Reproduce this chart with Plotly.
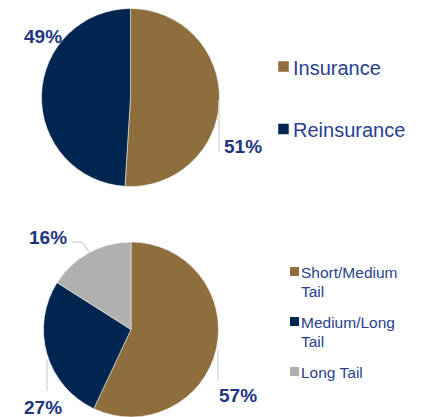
import plotly.graph_objects as go

W, H = 427, 417

# ---- data ----
seg_labels = ["Insurance", "Reinsurance"]
seg_values = [51, 49]
seg_colors = ["#8E6E3D", "#00264F"]

tail_labels = ["Short/Medium<br>Tail", "Medium/Long<br>Tail", "Long Tail"]
tail_values = [57, 27, 16]
tail_colors = ["#8E6E3D", "#00264F", "#B0B0B0"]

TEXT_BLUE = "#1E3580"
LEG_BLUE = "#27418F"
LINE_GREY = "#D9D9D9"
FONT = "Arial"


def px(x, y):
    return x / W, 1 - y / H


fig = go.Figure()

fig.add_trace(go.Pie(
    labels=seg_labels, values=seg_values, sort=False, direction="clockwise",
    rotation=0, marker=dict(colors=seg_colors, line=dict(color="white", width=0.5)),
    textinfo="none", hoverinfo="label+percent", showlegend=False,
    domain=dict(x=[41.5 / W, 219.5 / W], y=[1 - 187 / H, 1 - 8 / H]),
))

fig.add_trace(go.Pie(
    labels=tail_labels, values=tail_values, sort=False, direction="clockwise",
    rotation=0, marker=dict(colors=tail_colors, line=dict(color="white", width=0.5)),
    textinfo="none", hoverinfo="label+percent", showlegend=False,
    domain=dict(x=[43 / W, 219 / W], y=[0, 1 - 242 / H]),
))


# percentage labels
def pct(v, vals):
    return f"{round(100 * v / sum(vals))}%"

label_pos = [
    (seg_values[0], seg_values, 243, 145),
    (seg_values[1], seg_values, 42.5, 35.5),
    (tail_values[0], tail_values, 238, 394),
    (tail_values[1], tail_values, 43, 406.5),
    (tail_values[2], tail_values, 47.5, 236.5),
]
for v, vals, x, y in label_pos:
    xx, yy = px(x, y + 1)
    fig.add_annotation(x=xx, y=yy, xref="paper", yref="paper", text=f"<b>{pct(v, vals)}</b>",
                       showarrow=False, font=dict(family=FONT, size=19, color=TEXT_BLUE),
                       xanchor="center", yanchor="middle")

# leader lines (pixel paths)
leaders = [
    [(219, 100), (219, 152)],
    [(218, 350), (218, 381)],
    [(47, 360), (47, 391)],
    [(72, 242), (82, 242), (89, 252)],
]
for pts in leaders:
    path = "M " + " L ".join(f"{px(x, y)[0]},{px(x, y)[1]}" for x, y in pts)
    fig.add_shape(type="path", path=path, xref="paper", yref="paper",
                  line=dict(color=LINE_GREY, width=1.5))


# legends (square swatch + text), built from the label/colour arrays
def draw_legend(labels, colors, sq_x, sq_y0, step, sq, txt_x, fsize, line_gap):
    for i, (lab, col) in enumerate(zip(labels, colors)):
        cy = sq_y0 + i * step
        x0, y0 = px(sq_x - sq / 2, cy - sq / 2)
        x1, y1 = px(sq_x + sq / 2, cy + sq / 2)
        fig.add_shape(type="rect", xref="paper", yref="paper", x0=x0, x1=x1, y0=y1, y1=y0,
                      fillcolor=col, line=dict(width=0))
        for j, line in enumerate(lab.split("<br>")):
            tx, ty = px(txt_x, cy + j * line_gap + 1)
            fig.add_annotation(x=tx, y=ty, xref="paper", yref="paper", text=line,
                               showarrow=False, xanchor="left", yanchor="middle",
                               font=dict(family=FONT, size=fsize, color=LEG_BLUE))


draw_legend(seg_labels, seg_colors, 283.5, 66.5, 62.5, 10.5, 291, 20, 0)
draw_legend(tail_labels, tail_colors, 294.5, 271.5, 50, 9, 299, 15.5, 18.5)

fig.update_layout(
    width=W, height=H, margin=dict(l=0, r=0, t=0, b=0),
    paper_bgcolor="white", plot_bgcolor="white", showlegend=False,
)

fig.write_html("out.html", config={"displayModeBar": False},
               post_script="document.body.style.margin='0';")
